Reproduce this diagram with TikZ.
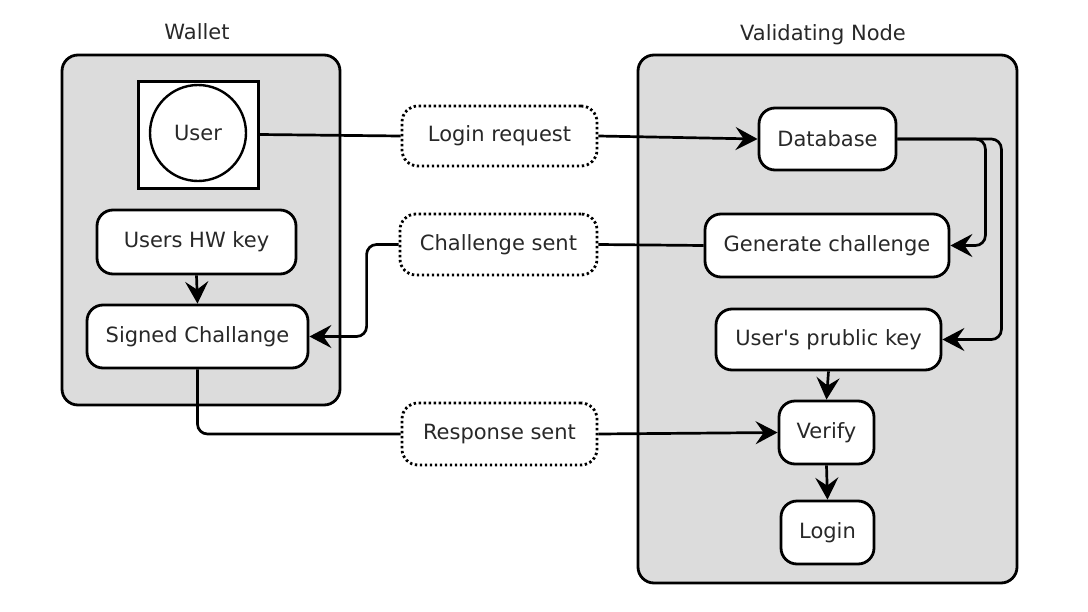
\documentclass[tikz,border=0pt]{standalone}
\usepackage{fontspec}
\setmainfont{DejaVu Sans}
\usetikzlibrary{arrows.meta}
\definecolor{panelgray}{RGB}{220,220,220}
\definecolor{txt}{RGB}{40,40,40}
\tikzset{
  panel/.style={draw=black, line width=1.4pt, fill=panelgray, rounded corners=8pt, inner sep=0pt},
  stepbox/.style={draw=black, line width=1.4pt, fill=white, rounded corners=8pt, inner sep=0pt, text=txt, font=\fontsize{10.5}{12}\selectfont},
  msgbox/.style={draw=black, line width=1.4pt, fill=white, rounded corners=8pt, inner sep=0pt, dash pattern=on 1.2pt off 1.3pt, text=txt, font=\fontsize{10.5}{12}\selectfont},
  lbl/.style={text=txt, font=\fontsize{10.5}{12}\selectfont},
  conn/.style={line width=1.35pt, rounded corners=5pt},
  arr/.style={conn, -{Stealth[length=11pt,width=11.5pt,inset=4pt]}}
}
\begin{document}
\begin{tikzpicture}[x=0.5pt,y=-0.5pt]
\useasboundingbox (0,0) rectangle (1088,611);
% panels
\node[panel, minimum width=139pt, minimum height=175pt] (wallet) at (201,230) {};
\node[panel, minimum width=189.5pt, minimum height=264pt] (vnode) at (827.5,319) {};
\node[lbl] (wtitle) at (197,32) {Wallet};
\node[lbl] (vtitle) at (823,35) {Validating Node};
% wallet content
\node[draw=black, line width=1.5pt, fill=white, minimum width=60pt, minimum height=53.5pt, inner sep=0pt] (userbox) at (198,134.5) {};
\node[draw=black, line width=1.2pt, circle, fill=white, minimum size=48pt, inner sep=0pt, lbl] (user) at (198,133) {User};
\node[stepbox, minimum width=99.5pt, minimum height=32pt] (hw) at (196.5,242) {Users HW key};
\node[stepbox, minimum width=110.5pt, minimum height=31.5pt] (sc) at (197.5,336.5) {Signed Challange};
% messages
\node[msgbox, minimum width=97.5pt, minimum height=30pt] (lr) at (499.5,136) {Login request};
\node[msgbox, minimum width=98.5pt, minimum height=30.5pt] (cs) at (498.5,244.5) {Challenge sent};
\node[msgbox, minimum width=97.5pt, minimum height=31pt] (rs) at (499.5,434) {Response sent};
% node content
\node[stepbox, minimum width=68.5pt, minimum height=31pt] (db) at (827.5,139) {Database};
\node[stepbox, minimum width=122pt, minimum height=31.5pt] (gc) at (827,245.5) {Generate challenge};
\node[stepbox, minimum width=112.5pt, minimum height=30.5pt] (pk) at (828.5,339.5) {User\textquotesingle s prublic key};
\node[stepbox, minimum width=47.5pt, minimum height=31.5pt] (vf) at (826.5,432.5) {Verify};
\node[stepbox, minimum width=46.5pt, minimum height=31.5pt] (lg) at (827.5,532.5) {Login};
% connectors
\draw[conn] (userbox.east) -- (lr.west);
\draw[arr] (lr.east) -- (db.west);
\draw[arr] (db.east) -- ++(88,0) |- (gc.east);
\draw[arr] (db.east) -- ++(104,0) |- (pk.east);
\draw[conn] (gc.west) -- (cs.east);
\draw[arr] (cs.west) -- ++(-32,0) |- (sc.east);
\draw[arr] (hw.south) -- (sc.north);
\draw[conn] (sc.south) |- (rs.west);
\draw[arr] (rs.east) -- (vf.west);
\draw[arr] (pk.south) -- (vf.north);
\draw[arr] (vf.south) -- (lg.north);
\end{tikzpicture}
\end{document}
